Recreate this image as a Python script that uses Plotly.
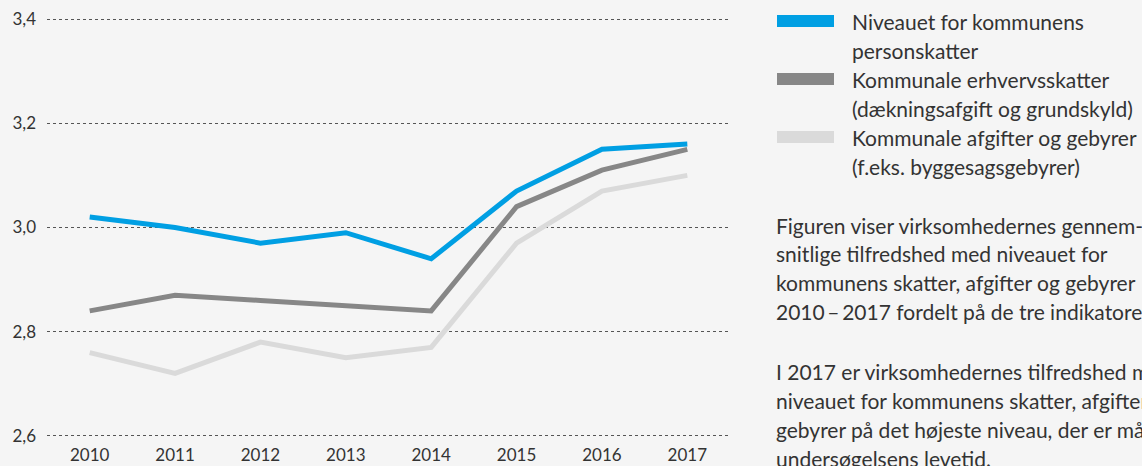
import plotly.graph_objects as go

years = [2010, 2011, 2012, 2013, 2014, 2015, 2016, 2017]
personskatter = [3.02, 3.00, 2.97, 2.99, 2.94, 3.07, 3.15, 3.16]
erhvervsskatter = [2.84, 2.87, 2.86, 2.85, 2.84, 3.04, 3.11, 3.15]
afgifter = [2.76, 2.72, 2.78, 2.75, 2.77, 2.97, 3.07, 3.10]

series_names = [
    ["Niveauet for kommunens", "personskatter"],
    ["Kommunale erhvervsskatter", "(dækningsafgift og grundskyld)"],
    ["Kommunale afgifter og gebyrer", "(f.eks. byggesagsgebyrer)"],
]
series_values = [personskatter, erhvervsskatter, afgifter]
colors = ["#009fe3", "#878787", "#dadada"]

y_ticks = [2.6, 2.8, 3.0, 3.2, 3.4]
y_ticktext = ["2,6", "2,8", "3,0", "3,2", "3,4"]

paragraph1 = ["Figuren viser virksomhedernes gennem-",
              "snitlige tilfredshed med niveauet for",
              "kommunens skatter, afgifter og gebyrer",
              "2010\u2009\u2013\u20092017 fordelt på de tre indikatorer."]
paragraph2 = ["I 2017 er virksomhedernes tilfredshed med",
              "niveauet for kommunens skatter, afgifter og",
              "gebyrer på det højeste niveau, der er målt i",
              "undersøgelsens levetid."]

W, H = 1142, 466
FONT = "Lato"
TXT = "#333333"
TXT_SIZE = 21

fig = go.Figure()
for vals, col, nm in reversed(list(zip(series_values, colors, series_names))):
    fig.add_trace(go.Scatter(x=years, y=vals, mode="lines",
                             line=dict(color=col, width=5),
                             name=" ".join(nm), showlegend=False,
                             hoverinfo="skip"))

plot_left, plot_right = 47, 730
plot_top, plot_bottom = 19, 436
pad = 0.002
span = 3.4 - 2.6
pxper = (plot_bottom - plot_top) / span
t = plot_top - pad * pxper
b = H - plot_bottom - pad * pxper

fig.update_layout(
    width=W, height=H,
    margin=dict(l=plot_left, r=W - plot_right, t=t, b=b, pad=0),
    paper_bgcolor="#f5f5f5", plot_bgcolor="#f5f5f5",
    font=dict(family=FONT, color=TXT),
    xaxis=dict(range=[2009.5, 2017.5], tickvals=years, ticktext=[str(y) for y in years],
               showgrid=False, zeroline=False, showline=False, ticks="",
               automargin=False,
               tickfont=dict(size=17, color=TXT), ticklabelstandoff=6),
    yaxis=dict(range=[2.6 - pad, 3.4 + pad], tickvals=y_ticks, ticktext=y_ticktext,
               showgrid=True, gridcolor="#555555", griddash="dot", gridwidth=1,
               zeroline=False, showline=False, ticks="", automargin=False,
               tickfont=dict(size=17, color=TXT), ticklabelstandoff=10),
)

pw = plot_right - plot_left
ph = H - t - b

def to_paper_x(px):
    return (px - plot_left) / pw

def to_paper_y(py):
    return 1 - (py - t) / ph

leg_line_y = [21, 79, 137]
for i, (nm, col) in enumerate(zip(series_names, colors)):
    yc = leg_line_y[i]
    fig.add_shape(type="rect", xref="paper", yref="paper",
                  x0=to_paper_x(777), x1=to_paper_x(834),
                  y0=to_paper_y(yc + 6), y1=to_paper_y(yc - 6),
                  fillcolor=col, line=dict(width=0), layer="above")
    for j, line in enumerate(nm):
        fig.add_annotation(x=to_paper_x(853 - 3), y=to_paper_y(yc + j * 29), xref="paper", yref="paper",
                           text=line, showarrow=False, xanchor="left", yanchor="middle",
                           font=dict(size=TXT_SIZE, color=TXT, family=FONT))

for k, line in enumerate(paragraph1):
    fig.add_annotation(x=to_paper_x(777 - 3), y=to_paper_y(225 + k * 29), xref="paper", yref="paper",
                       text=line, showarrow=False, xanchor="left", yanchor="middle",
                       font=dict(size=TXT_SIZE, color=TXT, family=FONT))
for k, line in enumerate(paragraph2):
    fig.add_annotation(x=to_paper_x(777 - 3), y=to_paper_y(372 + k * 29), xref="paper", yref="paper",
                       text=line, showarrow=False, xanchor="left", yanchor="middle",
                       font=dict(size=TXT_SIZE, color=TXT, family=FONT))

fig.write_html("out.html",
               config={"displayModeBar": False, "staticPlot": True},
               post_script="document.body.style.margin='0';document.body.style.overflow='hidden';document.body.style.background='#f5f5f5';")
